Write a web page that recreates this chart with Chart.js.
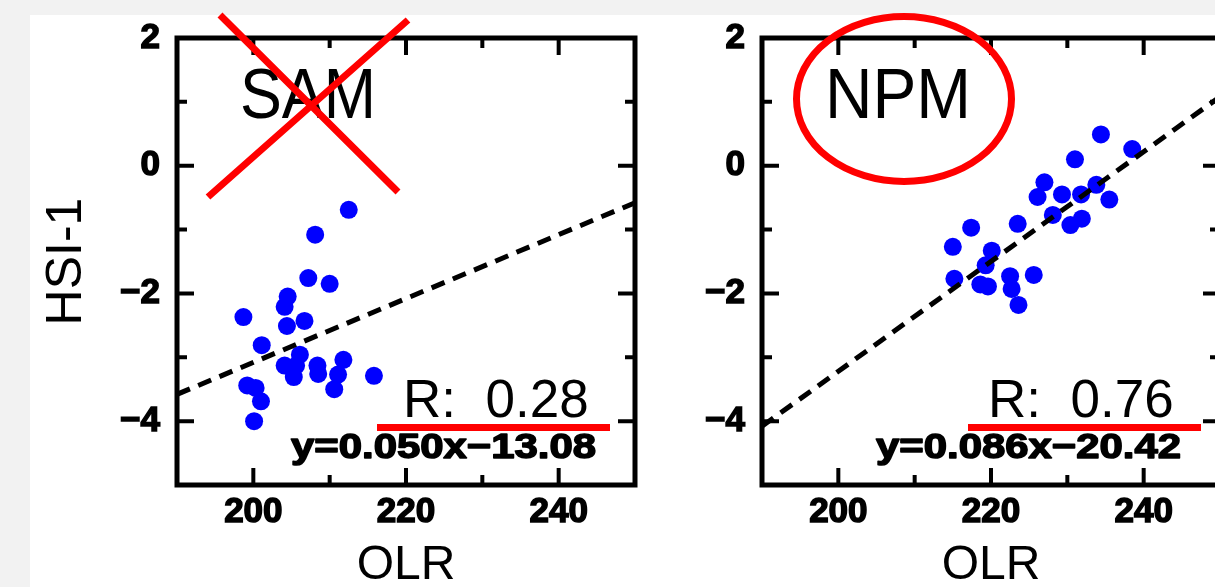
<!DOCTYPE html>
<html>
<head>
<meta charset="utf-8">
<script src="https://cdn.jsdelivr.net/npm/chart.js@4.4.1/dist/chart.umd.min.js"></script>
<style>
  html, body { margin: 0; padding: 0; width: 1215px; height: 587px; overflow: hidden; background: #f2f2f2; }
  #paper { position: absolute; left: 30px; top: 15px; right: 0; bottom: 0; background: #fff; }
  canvas { position: absolute; top: 0; }
  #sam { left: 0; }
  #npm { left: 585px; }
</style>
</head>
<body>
<div id="paper"></div>
<canvas id="sam" width="700" height="587"></canvas>
<canvas id="npm" width="700" height="587"></canvas>
<script>
// SAM panel (OLR vs HSI-1)
const samOlr = [212.5, 208.1, 207.2, 210.0, 204.5, 204.1, 198.7, 206.7, 204.4, 201.1, 206.1, 211.8,
                204.1, 205.6, 208.4, 208.5, 205.3, 211.1, 215.8, 199.2, 200.3, 210.6, 201.0, 200.1];
const samHsi = [-0.69, -1.08, -1.76, -1.85, -2.05, -2.21, -2.37, -2.43, -2.51, -2.81, -2.96, -3.04,
                -3.13, -3.13, -3.13, -3.26, -3.31, -3.27, -3.29, -3.44, -3.48, -3.50, -3.69, -4.00];
const samFitOlr = [190, 250];
const samFitHsi = [-3.58, -0.58];

// NPM panel
const npmOlr = [234.4, 238.5, 231.0, 227.0, 233.8, 226.1, 229.3, 231.8, 235.5, 228.1, 231.9, 230.4,
                223.5, 217.4, 215.0, 220.1, 219.3, 215.2, 222.5, 225.6, 218.6, 219.6, 222.7, 223.6];
const npmHsi = [0.49, 0.26, 0.10, -0.26, -0.30, -0.49, -0.45, -0.45, -0.53, -0.77, -0.83, -0.93,
                -0.91, -0.97, -1.27, -1.33, -1.56, -1.77, -1.73, -1.71, -1.86, -1.89, -1.93, -2.18];
const npmFitOlr = [190, 250];
const npmFitHsi = [-4.08, 1.08];

const FONT = '"Liberation Sans", Arial, Helvetica, sans-serif';
Chart.defaults.font.family = FONT;
Chart.defaults.color = '#000';

function minus(v) {
  return v < 0 ? '\u2212' + Math.abs(v) : String(v);
}

// text squeezed or stretched to a given width
function fitText(ctx, text, x, y, width, stroke) {
  const w = ctx.measureText(text).width;
  ctx.save();
  ctx.translate(x, y);
  ctx.scale(width / w, 1);
  if (stroke) {
    ctx.lineWidth = stroke;
    ctx.lineJoin = 'round';
    ctx.strokeStyle = ctx.fillStyle;
    ctx.strokeText(text, 0, 0);
  }
  ctx.fillText(text, 0, 0);
  ctx.restore();
}

// box, inward ticks and the red hand-drawn marks
const figureMarks = {
  id: 'figureMarks',
  afterDraw(chart, args, opts) {
    const ctx = chart.ctx;
    const a = chart.chartArea;
    const xs = chart.scales.x, ys = chart.scales.y;
    ctx.save();
    ctx.strokeStyle = '#000';
    ctx.lineCap = 'butt';
    ctx.lineWidth = 4;
    xs.ticks.forEach(t => {
      if (t.value <= xs.min || t.value >= xs.max) return;
      const px = xs.getPixelForValue(t.value);
      const len = t.value % 20 === 0 ? 17 : 10;
      ctx.beginPath();
      ctx.moveTo(px, a.bottom); ctx.lineTo(px, a.bottom - len);
      ctx.moveTo(px, a.top); ctx.lineTo(px, a.top + len);
      ctx.stroke();
    });
    ys.ticks.forEach(t => {
      if (t.value <= ys.min || t.value >= ys.max) return;
      const py = ys.getPixelForValue(t.value);
      const len = t.value % 2 === 0 ? 17 : 10;
      ctx.beginPath();
      ctx.moveTo(a.left, py); ctx.lineTo(a.left + len, py);
      ctx.moveTo(a.right, py); ctx.lineTo(a.right - len, py);
      ctx.stroke();
    });
    ctx.lineWidth = 5;
    ctx.lineJoin = 'miter';
    ctx.strokeRect(a.left, a.top, a.right - a.left, a.bottom - a.top);

    ctx.fillStyle = '#000';
    ctx.textBaseline = 'alphabetic';
    // panel name
    ctx.font = '71px ' + FONT;
    fitText(ctx, opts.name, 240, 118, opts.nameWidth, 0);
    // correlation
    ctx.font = '53px ' + FONT;
    ctx.fillText(opts.r, 403, 417);
    // regression equation (wide bold lettering)
    ctx.font = 'bold 35px ' + FONT;
    fitText(ctx, opts.eq, 291, 458, 305, 1.5);

    // red marks
    ctx.strokeStyle = '#ff0000';
    ctx.fillStyle = '#ff0000';
    ctx.lineWidth = 7;
    if (opts.cross) {
      ctx.beginPath();
      ctx.moveTo(220, 15); ctx.lineTo(398, 192);
      ctx.moveTo(208, 197); ctx.lineTo(408, 20);
      ctx.stroke();
    }
    if (opts.ring) {
      ctx.beginPath();
      ctx.ellipse(319, 99, 107.5, 82.5, 0, 0, Math.PI * 2);
      ctx.stroke();
    }
    ctx.fillRect(opts.lineX, 424, 233, 7);
    ctx.restore();
  }
};

function makePanel(id, olr, hsi, fitX, fitY, showYTitle, marks) {
  const pts = olr.map((v, i) => ({ x: v, y: hsi[i] }));
  const fit = fitX.map((v, i) => ({ x: v, y: fitY[i] }));
  return new Chart(document.getElementById(id), {
    type: 'scatter',
    data: {
      datasets: [
        {
          data: fit,
          showLine: true,
          borderColor: '#000',
          borderWidth: 5,
          borderDash: [14, 9],
          pointRadius: 0,
          fill: false
        },
        {
          data: pts,
          backgroundColor: '#0000ff',
          borderWidth: 0,
          pointRadius: 9
        }
      ]
    },
    options: {
      responsive: false,
      animation: false,
      events: [],
      layout: { padding: { top: 30, right: 65, bottom: 0, left: 0 } },
      plugins: {
        legend: { display: false },
        tooltip: { enabled: false },
        figureMarks: marks
      },
      scales: {
        x: {
          type: 'linear',
          min: 190, max: 250,
          afterFit: s => { s.height = 102; },
          grid: { display: false, drawTicks: false },
          border: { display: false },
          ticks: {
            stepSize: 10,
            autoSkip: false,
            maxRotation: 0,
            padding: 6,
            font: { size: 35, weight: 'bold' },
            textStrokeColor: '#000',
            textStrokeWidth: 1.5,
            callback: v => (v % 20 === 0 && v > 190 && v < 250) ? String(v) : ''
          },
          title: {
            display: true,
            text: 'OLR',
            font: { size: 48, lineHeight: 0.9 },
            padding: { top: 0, bottom: 0 }
          }
        },
        y: {
          min: -5, max: 2,
          afterFit: s => { s.width = 177; },
          grid: { display: false, drawTicks: false },
          border: { display: false },
          ticks: {
            stepSize: 1,
            autoSkip: false,
            padding: 17,
            font: { size: 35, weight: 'bold' },
            textStrokeColor: '#000',
            textStrokeWidth: 1.5,
            callback: v => (v % 2 === 0) ? minus(v) : ''
          },
          title: {
            display: showYTitle,
            text: 'HSI-1',
            font: { size: 50 },
            padding: { top: 37, bottom: 0 }
          }
        }
      }
    },
    plugins: [figureMarks]
  });
}

makePanel('sam', samOlr, samHsi, samFitOlr, samFitHsi, true,
  { name: 'SAM', nameWidth: 136, r: 'R:  0.28', eq: 'y=0.050x\u221213.08', cross: true, ring: false, lineX: 377 });
makePanel('npm', npmOlr, npmHsi, npmFitOlr, npmFitHsi, false,
  { name: 'NPM', nameWidth: 146, r: 'R:  0.76', eq: 'y=0.086x\u221220.42', cross: false, ring: true, lineX: 383 });
</script>
</body>
</html>
